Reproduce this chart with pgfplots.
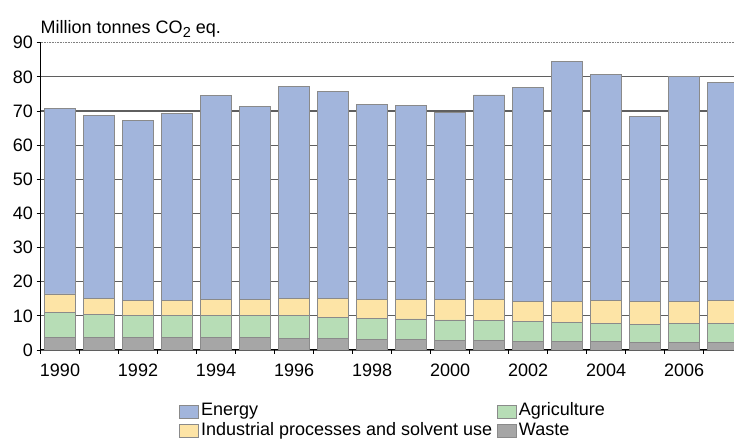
\documentclass[border=0pt]{standalone}
\usepackage{fontspec}
\setmainfont{Liberation Sans}
\usepackage{pgfplots}
\usepackage{pgfplotstable}
\pgfplotsset{compat=1.18}

\definecolor{energy}{RGB}{162,181,220}
\definecolor{industry}{RGB}{253,228,166}
\definecolor{agri}{RGB}{183,221,182}
\definecolor{waste}{RGB}{166,166,166}
\definecolor{edge}{RGB}{138,138,138}
\definecolor{gridc}{RGB}{95,95,95}

% stacked increments, million tonnes CO2 eq.
\pgfplotstableread{
year waste agri ind energy
1990 3.7 7.4 5.3 54.4
1991 3.7 6.8 4.7 53.4
1992 3.7 6.3 4.6 52.5
1993 3.7 6.3 4.6 54.6
1994 3.7 6.3 4.8 59.8
1995 3.7 6.3 4.8 56.4
1996 3.4 6.6 5.0 62.1
1997 3.4 6.2 5.6 60.4
1998 3.1 6.2 5.4 57.3
1999 3.2 5.9 5.7 56.7
2000 2.9 5.9 6.0 54.7
2001 2.9 5.7 6.1 60.0
2002 2.6 5.7 6.0 62.5
2003 2.4 5.6 6.3 70.2
2004 2.4 5.4 6.7 66.1
2005 2.2 5.3 6.8 54.1
2006 2.2 5.5 6.6 65.7
2007 2.2 5.5 6.7 63.9
}\emissions

\newcommand\lbl{\fontsize{18}{21}\selectfont}

\begin{document}
\begin{tikzpicture}
\useasboundingbox (0,0) rectangle (734pt,443pt);
\begin{axis}[
    at={(40.5pt,93pt)}, anchor=south west,
    scale only axis,
    width=693.5pt, height=307.3pt,
    ybar stacked, bar width=31pt,
    xmin=1989.5, xmax=2007.28,
    ymin=0, ymax=90,
    axis x line*=bottom, axis y line*=left,
    axis line style={-, black, line width=1pt},
    ytick={0,10,...,80},
    extra y ticks={90},
    extra y tick style={grid style={gray, line width=1pt, dash pattern=on 1pt off 0.6pt}},
    ymajorgrids,
    grid style={gridc, line width=1.1pt},
    xtick={1989.5,1990.5,...,2007.5},
    xticklabels={},
    extra x ticks={1990,1992,...,2006},
    extra x tick labels={1990,1992,1994,1996,1998,2000,2002,2004,2006},
    extra x tick style={major tick length=0pt, grid=none,
      xticklabel style={yshift=-10pt}},
    tick align=outside,
    major tick length=4pt,
    tick style={black, line width=0.8pt},
    tick label style={font=\lbl},
    /pgf/number format/assume math mode=true,
    /pgf/number format/1000 sep={},
    title={Million tonnes CO\raisebox{-4pt}{\fontsize{14.5}{14.5}\selectfont 2} eq.},
    title style={at={(0,1)}, anchor=base west, inner sep=0pt, yshift=3pt, font=\lbl},
    legend columns=2,
    legend cell align=left,
    legend style={draw=none, fill=none, inner sep=0pt,
      at={(0.199,-0.171)}, anchor=north west, font=\lbl,
      nodes={inner xsep=2.5pt, inner ysep=1pt, text height=12pt, text depth=3.5pt},
      /tikz/every even column/.append style={column sep=2pt},
      row sep=2pt},
    legend image code/.code={\draw[#1, draw=edge, line width=0.8pt] (0pt,-6.5pt) rectangle (19pt,6.5pt);},
]
\addplot[fill=waste, draw=edge, line width=0.8pt, forget plot] table[x=year, y=waste] {\emissions};
\addplot[fill=agri, draw=edge, line width=0.8pt, forget plot] table[x=year, y=agri] {\emissions};
\addplot[fill=industry, draw=edge, line width=0.8pt, forget plot] table[x=year, y=ind] {\emissions};
\addplot[fill=energy, draw=edge, line width=0.8pt, forget plot] table[x=year, y=energy] {\emissions};
\addlegendimage{fill=energy}
\addlegendentry{Energy}
\addlegendimage{fill=agri}
\addlegendentry{Agriculture}
\addlegendimage{fill=industry}
\addlegendentry{Industrial processes and solvent use}
\addlegendimage{fill=waste}
\addlegendentry{Waste}
\end{axis}
\end{tikzpicture}
\end{document}
